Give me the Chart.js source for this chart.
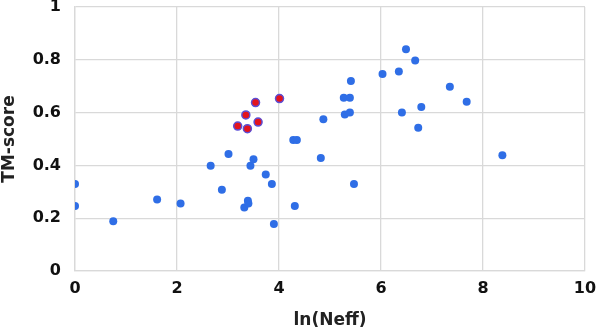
<!DOCTYPE html>
<html>
<head>
<meta charset="utf-8">
<script src="https://cdn.jsdelivr.net/npm/chart.js@4"></script>
<style>
  html, body { margin: 0; padding: 0; background: #fff; }
  #wrap { width: 597px; height: 333px; }
</style>
</head>
<body>
<div id="wrap"><canvas id="tmChart"></canvas></div>
<script>
// blue points: ln(Neff) vs TM-score
const blueX = [0, 0, 0.75, 1.61, 2.07, 2.66, 2.88, 3.01, 3.32, 3.39, 3.40, 3.44, 3.50, 3.74, 3.86, 3.90,
  4.28, 4.35, 4.31, 4.82, 4.87, 5.27, 5.39, 5.29, 5.39, 5.41, 5.47, 6.03, 6.35, 6.41, 6.49, 6.67, 6.73,
  6.79, 7.35, 7.68, 8.38];
const blueY = [0.33, 0.246, 0.188, 0.271, 0.256, 0.399, 0.308, 0.443, 0.241, 0.266, 0.256, 0.399, 0.423,
  0.366, 0.330, 0.178, 0.496, 0.496, 0.246, 0.428, 0.575, 0.656, 0.656, 0.593, 0.600, 0.720, 0.330,
  0.746, 0.756, 0.600, 0.840, 0.797, 0.543, 0.621, 0.698, 0.641, 0.438];

// highlighted (red) points
const redX = [3.19, 3.35, 3.38, 3.54, 3.59, 4.01];
const redY = [0.549, 0.591, 0.539, 0.638, 0.564, 0.653];

const xTicks = [0, 2, 4, 6, 8, 10];
const yTicks = [0, 0.2, 0.4, 0.6, 0.8, 1];

const toPoints = (xs, ys) => xs.map((x, i) => ({ x, y: ys[i] }));

const tickFont = { family: "DejaVu Sans", size: 16, weight: "bold" };
const titleFont = { family: "DejaVu Sans", size: 17, weight: "bold" };

new Chart(document.getElementById("tmChart"), {
  type: "scatter",
  data: {
    datasets: [
      {
        label: "other",
        data: toPoints(blueX, blueY),
        backgroundColor: "#2f6ee6",
        borderColor: "#2f6ee6",
        pointRadius: 4,
        borderWidth: 0,
      },
      {
        label: "highlight",
        data: toPoints(redX, redY),
        backgroundColor: "#e3141e",
        borderColor: "#5b4fd6",
        pointRadius: 4,
        borderWidth: 1.5,
      },
    ],
  },
  options: {
    responsive: true,
    maintainAspectRatio: false,
    animation: false,
    layout: { padding: { top: 7, right: 12, left: 0, bottom: 0 } },
    plugins: {
      legend: { display: false },
      tooltip: { enabled: false },
    },
    scales: {
      x: {
        type: "linear",
        min: 0,
        max: 10,
        afterBuildTicks: (axis) => { axis.ticks = xTicks.map((v) => ({ value: v })); },
        afterFit: (axis) => {
          axis.height = 62;
          axis.paddingLeft = 0;
          axis.paddingRight = 0;
        },
        grid: { color: "#d9d9d9", lineWidth: 1.3, drawTicks: false },
        border: { color: "#d9d9d9", width: 1.3 },
        ticks: { color: "#111", font: tickFont, padding: 8 },
        title: { display: true, text: "ln(Neff)", color: "#222", font: titleFont, padding: { top: 0, bottom: 2 } },
      },
      y: {
        min: 0,
        max: 1,
        afterBuildTicks: (axis) => { axis.ticks = yTicks.map((v) => ({ value: v })); },
        afterFit: (axis) => {
          axis.width = 75;
          axis.paddingTop = 0;
          axis.paddingBottom = 0;
        },
        grid: { color: "#d9d9d9", lineWidth: 1.3, drawTicks: false },
        border: { color: "#d9d9d9", width: 1.3 },
        ticks: {
          color: "#111",
          font: tickFont,
          padding: 14,
          callback: (v) => String(+v.toFixed(1)),
        },
        title: { display: true, text: "TM-score", color: "#222", font: titleFont, padding: { top: -1, bottom: 0 } },
      },
    },
  },
});
</script>
</body>
</html>
